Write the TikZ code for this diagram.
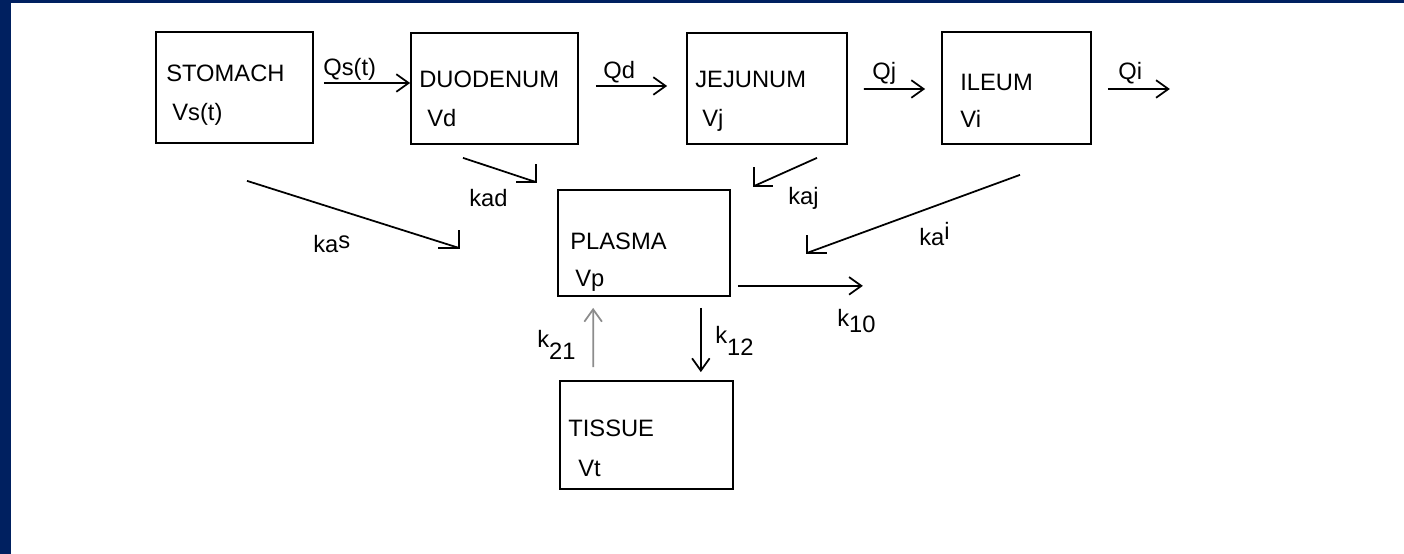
\documentclass[tikz,border=0pt]{standalone}
\usepackage{fontspec}
\setmainfont{Liberation Sans}
\usetikzlibrary{arrows.meta,calc}
\definecolor{navybar}{RGB}{0,32,96}
\definecolor{lightarrow}{RGB}{140,140,140}
\begin{document}
\begin{tikzpicture}[x=0.02cm,y=-0.02cm,
  box/.style={draw,line width=1pt,inner sep=0pt,minimum height=2.22cm},
  lbl/.style={anchor=base west,inner sep=0pt,font=\fontsize{13.5}{16}\selectfont},
  flow/.style={line width=1pt,-{Straight Barb[length=7pt,width=10pt]}},
  feed/.style={line width=1pt}]
\useasboundingbox (0,0) rectangle (1404,554);
\fill[white] (0,0) rectangle (1404,554);
\fill[navybar] (0,0) rectangle (11,554);
\fill[navybar] (0,0) rectangle (1404,3);

% compartments
\node[box,minimum width=3.14cm] (stomach) at (234.5,87.5) {};
\node[box,minimum width=3.34cm] (duodenum) at (494.5,88.5) {};
\node[box,minimum width=3.2cm] (jejunum) at (767,88.5) {};
\node[box,minimum width=2.98cm,minimum height=2.24cm] (ileum) at (1016.5,88) {};
\node[box,minimum width=3.44cm,minimum height=2.12cm] (plasma) at (644,243) {};
\node[box,minimum width=3.46cm,minimum height=2.16cm] (tissue) at (646.5,435) {};

% compartment texts
\node[lbl] (stomachT) at (166,82) {STOMACH};
\node[lbl] (stomachV) at (172,121) {Vs(t)};
\node[lbl] (duodenumT) at (419,88) {DUODENUM};
\node[lbl] (duodenumV) at (427,127) {Vd};
\node[lbl] (jejunumT) at (695,88) {JEJUNUM};
\node[lbl] (jejunumV) at (702,127) {Vj};
\node[lbl] (ileumT) at (960,91) {ILEUM};
\node[lbl] (ileumV) at (960,128) {Vi};
\node[lbl] (plasmaT) at (570,249) {PLASMA};
\node[lbl] (plasmaV) at (575,286) {Vp};
\node[lbl] (tissueT) at (568,436) {TISSUE};
\node[lbl] (tissueV) at (578,476) {Vt};

% transit flows
\draw[flow] ([shift={(10,-4.5)}]stomach.east) -- ([shift={(0,-5.5)}]duodenum.west);
\draw[flow] ([shift={(17,-2.5)}]duodenum.east) -- ([shift={(-19,-2.5)}]jejunum.west);
\draw[flow] ([shift={(16,0.5)}]jejunum.east) -- ([shift={(-16,1)}]ileum.west);
\coordinate (qiEnd) at ([shift={(78,1)}]ileum.east);
\draw[flow] ([shift={(16,1)}]ileum.east) -- (qiEnd);
\node[lbl] (qsL) at (323,76) {Qs(t)};
\node[lbl] (qdL) at (603,79) {Qd};
\node[lbl] (qjL) at (872,80) {Qj};
\node[lbl] (qiL) at (1118,80) {Qi};

% absorption
\coordinate (kasS) at ([shift={(12.5,37)}]stomach.south);
\coordinate (kasE) at ([shift={(-98,5)}]plasma.west);
\draw[feed] (kasS) -- (kasE);
\draw[feed] ([shift={(0,-18)}]kasE) -- (kasE) -- ++(-21,0);

\coordinate (kadS) at ([shift={(-31.5,13)}]duodenum.south);
\coordinate (kadE) at ([shift={(-21,-7)}]plasma.north west);
\draw[feed] (kadS) -- (kadE);
\draw[feed] ([shift={(0,-18)}]kadE) -- (kadE) -- ++(-20,0);

\coordinate (kajS) at ([shift={(50,13)}]jejunum.south);
\coordinate (kajE) at ([shift={(23,-3)}]plasma.north east);
\draw[feed] (kajS) -- (kajE);
\draw[feed] ([shift={(0,-19)}]kajE) -- (kajE) -- ++(19,0);

\coordinate (kaiS) at ([shift={(3.5,30)}]ileum.south);
\coordinate (kaiE) at ([shift={(76,10)}]plasma.east);
\draw[feed] (kaiS) -- (kaiE);
\draw[feed] ([shift={(0,-18)}]kaiE) -- (kaiE) -- ++(20,0);

\node[lbl] (kasL) at (313,253) {ka\raisebox{2.5pt}{s}};
\node[lbl] (kadL) at (469,207) {kad};
\node[lbl] (kajL) at (788,205) {kaj};
\node[lbl] (kaiL) at (919,245) {ka\raisebox{3pt}{i}};

% plasma exchanges
\coordinate (k10E) at ([shift={(132,-11)}]plasma.south east);
\draw[flow] ([shift={(7,-11)}]plasma.south east) -- (k10E);
\draw[flow,lightarrow] ([shift={(34,-13)}]tissue.north west) -- ([shift={(36,11)}]plasma.south west);
\draw[flow] ([shift={(-30,11)}]plasma.south east) -- ([shift={(-33,-8)}]tissue.north east);
\node[lbl] (k10L) at (837,326) {k\raisebox{-3.5pt}{10}};
\node[lbl] (k21L) at (537,347) {k\raisebox{-7pt}{21}};
\node[lbl] (k12L) at (715,343) {k\raisebox{-7pt}{12}};
\end{tikzpicture}
\end{document}
